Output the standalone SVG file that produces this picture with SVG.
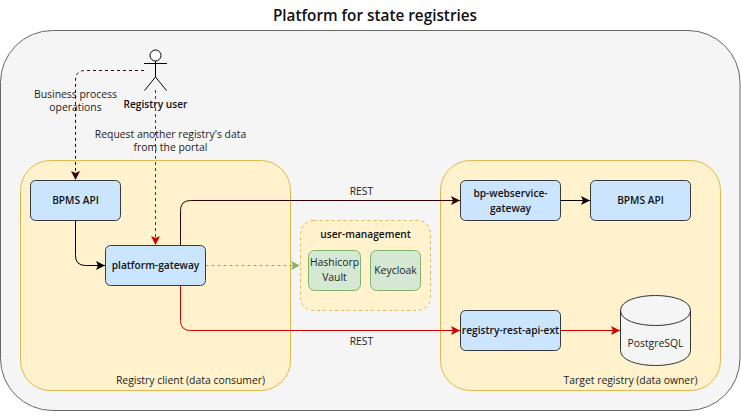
<svg xmlns="http://www.w3.org/2000/svg" width="741" height="419" viewBox="0 0 741 419">
<style>
text{font-family:"Open Sans","Noto Sans","Liberation Sans",sans-serif;font-size:10.400px;fill:#222;text-anchor:middle}
.b{font-weight:600;fill:#111;font-size:10.200px}
.blue{fill:#cce5ff;stroke:#36393d;stroke-width:1}
.grn{fill:#d5e8d4;stroke:#82b366;stroke-width:1}
.yel{fill:#fff2cc;stroke:#e0b84e;stroke-width:1}
.c{fill:none;stroke-width:1}
</style>
<defs>
<marker id="mk" markerUnits="userSpaceOnUse" markerWidth="10" markerHeight="10" refX="9" refY="4.500" orient="auto"><path d="M0 0L9 4.500L0 9L2 4.500Z" fill="#000"/></marker>
<marker id="md" markerUnits="userSpaceOnUse" markerWidth="10" markerHeight="10" refX="9" refY="4.500" orient="auto"><path d="M0 0L9 4.500L0 9L2 4.500Z" fill="#330000"/></marker>
<marker id="mr" markerUnits="userSpaceOnUse" markerWidth="10" markerHeight="10" refX="9" refY="4.500" orient="auto"><path d="M0 0L9 4.500L0 9L2 4.500Z" fill="#cc0000"/></marker>
<marker id="mg" markerUnits="userSpaceOnUse" markerWidth="10" markerHeight="10" refX="9" refY="4.500" orient="auto"><path d="M0 0L9 4.500L0 9L2 4.500Z" fill="#82b366"/></marker>
</defs>
<text x="375" y="21" style="font-size:15.300px" class="b">Platform for state registries</text>
<g id="platform"><rect x="0.500" y="30.500" width="739.500" height="380" rx="52" fill="#f5f5f5" stroke="#666"/></g>
<g id="client"><rect class="yel" x="20.500" y="160.500" width="270" height="230" rx="30"/><text x="190.500" y="384">Registry client (data consumer)</text></g>
<g id="target"><rect class="yel" x="440.500" y="160.500" width="280" height="230" rx="30"/><text x="630.500" y="384">Target registry (data owner)</text></g>
<g id="user-management"><rect class="yel" x="300.500" y="220.500" width="130" height="90" rx="13" stroke-dasharray="3 3"/><text class="b" x="365.500" y="238">user-management</text></g>
<g id="actor" fill="none" stroke="#000" stroke-width="1"><circle cx="155.500" cy="55.500" r="5.500" fill="#fff"/><path d="M155.500 61V77M144 63.500H167M155.500 77L144.500 90.500M155.500 77L166.500 90.500"/><text class="b" x="155.500" y="108" stroke="none">Registry user</text></g>
<g id="connectors">
<path class="c" d="M144 70.500H85.500Q75.500 70.500 75.500 80.500V180" stroke="#330000" stroke-dasharray="3 3" marker-end="url(#md)"/>
<path class="c" d="M155.500 90V245" stroke="#cc0000" stroke-dasharray="3 3" marker-end="url(#mr)"/>
<path class="c" d="M75.500 220.500V255.500Q75.500 265.500 85.500 265.500H105" stroke="#000" marker-end="url(#mk)"/>
<path class="c" d="M180.500 245.500V210.500Q180.500 200.500 190.500 200.500H460" stroke="#330000" marker-end="url(#md)"/>
<path class="c" d="M180.500 285.500V320.500Q180.500 330.500 190.500 330.500H460" stroke="#cc0000" marker-end="url(#mr)"/>
<path class="c" d="M205.500 265.500H300" stroke="#82b366" stroke-dasharray="3 3" marker-end="url(#mg)"/>
<path class="c" d="M560.500 200.500H590" stroke="#000" marker-end="url(#mk)"/>
<path class="c" d="M560.500 330.500H620" stroke="#cc0000" marker-end="url(#mr)"/>
</g>
<g id="labels">
<text x="75.500" y="98">Business process</text><text x="75.500" y="111">operations</text>
<text x="170.500" y="138">Request another registry's data</text><text x="170.500" y="151">from the portal</text>
<text x="361.500" y="195">REST</text><text x="361.500" y="345">REST</text>
</g>
<g id="bpms-api-1"><rect class="blue" x="30.500" y="180.500" width="90" height="40" rx="5"/><text class="b" x="75.500" y="204">BPMS API</text></g>
<g id="platform-gateway"><rect class="blue" x="105.500" y="245.500" width="100" height="40" rx="5"/><text class="b" x="155.500" y="269">platform-gateway</text></g>
<g id="vault"><rect class="grn" x="308.500" y="250.500" width="52" height="40" rx="6"/><text x="334.500" y="266">Hashicorp</text><text x="334.500" y="281">Vault</text></g>
<g id="keycloak"><rect class="grn" x="370.500" y="250.500" width="50" height="40" rx="6"/><text x="395.500" y="274">Keycloak</text></g>
<g id="bp-webservice-gateway"><rect class="blue" x="460.500" y="180.500" width="100" height="40" rx="5"/><text class="b" x="510.500" y="197">bp-webservice-</text><text class="b" x="510.500" y="212">gateway</text></g>
<g id="bpms-api-2"><rect class="blue" x="590.500" y="180.500" width="100" height="40" rx="5"/><text class="b" x="640.500" y="204">BPMS API</text></g>
<g id="registry-rest-api-ext"><rect class="blue" x="460.500" y="310.500" width="100" height="40" rx="5"/><text class="b" x="510.500" y="334">registry-rest-api-ext</text></g>
<g id="postgresql"><path d="M620.500 310.500C620.500 290.500 690.500 290.500 690.500 310.500V350.500C690.500 370.500 620.500 370.500 620.500 350.500Z" fill="#f5f5f5" stroke="#333"/><path d="M620.500 310.500C620.500 330.500 690.500 330.500 690.500 310.500" fill="none" stroke="#333"/><text x="655.500" y="347">PostgreSQL</text></g>
</svg>
